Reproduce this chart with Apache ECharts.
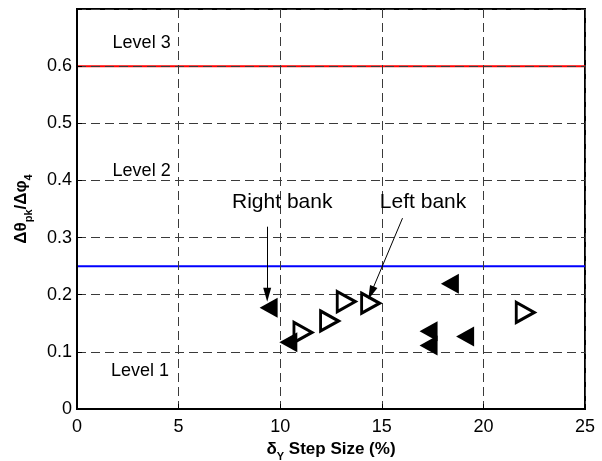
<!DOCTYPE html>
<html>
<head>
<meta charset="utf-8">
<script src="https://cdn.jsdelivr.net/npm/echarts@6/dist/echarts.min.js"></script>
<style>
html,body{margin:0;padding:0;background:#fff;}
#chart{width:602px;height:461px;}
</style>
</head>
<body>
<div id="chart"></div>
<script>
// ---- data ----
const xTicks = [0, 5, 10, 15, 20, 25];
const yTicks = [0, 0.1, 0.2, 0.3, 0.4, 0.5, 0.6];
// Right bank (filled, left-pointing triangles)
const rightBankX = [9.43, 10.4, 17.3, 17.3, 18.35, 19.1];
const rightBankY = [0.177, 0.117, 0.136, 0.111, 0.219, 0.127];
// Left bank (open, right-pointing triangles)
const leftBankX = [11.12, 12.43, 13.25, 14.45, 22.06];
const leftBankY = [0.134, 0.154, 0.188, 0.185, 0.169];
// Threshold levels
const level3Threshold = 0.6;
const level2Threshold = 0.25;
// Text annotations
const annotTexts = ['Level 3', 'Level 2', 'Level 1', 'Right bank', 'Left bank'];
const annotX = [3.18, 3.18, 3.1, 10.1, 17.03];
const annotY = [0.64, 0.416, 0.067, 0.362, 0.362];
// Arrows: [x0, y0, x1, y1]
const rightArrow = [9.36, 0.319, 9.36, 0.2];
const leftArrow = [16.02, 0.334, 14.47, 0.203];

const FONT = 'Liberation Sans, Arial, sans-serif';
const zip = (xs, ys) => xs.map((x, i) => [x, ys[i]]);

const chart = echarts.init(document.getElementById('chart'), null, {renderer: 'canvas'});
const option = {
  animation: false,
  backgroundColor: '#fff',
  grid: {left: 77, right: 17, top: 9, bottom: 52, containLabel: false, outerBoundsMode: 'none',
    show: true, borderColor: '#000', borderWidth: 2, backgroundColor: 'transparent'},
  xAxis: {
    type: 'value', min: xTicks[0], max: xTicks[xTicks.length - 1], interval: 5,
    z: 3,
    axisLine: {show: true, onZero: false, lineStyle: {color: '#000', width: 2}},
    axisTick: {show: true, inside: true, length: 5, lineStyle: {color: '#000'}},
    axisLabel: {fontSize: 18, color: '#000', fontFamily: FONT, margin: 9},
    splitLine: {show: true, lineStyle: {color: '#3a3a3a', width: 1, type: [9, 5]}},
    name: '{d|δ}{s|Y}{d| Step Size (%)}',
    nameLocation: 'middle', nameGap: 32,
    nameTextStyle: {
      fontFamily: FONT, fontWeight: 'bold', color: '#000',
      rich: {
        d: {fontSize: 17, fontWeight: 'bold', fontFamily: FONT, color: '#000', lineHeight: 20, verticalAlign: 'top'},
        s: {fontSize: 11, fontWeight: 'bold', fontFamily: FONT, color: '#000', lineHeight: 11, padding: [10, 0, 0, 0], verticalAlign: 'top'}
      }
    }
  },
  yAxis: {
    type: 'value', min: yTicks[0], max: 0.7, interval: 0.1,
    z: 3,
    axisLine: {show: true, onZero: false, lineStyle: {color: '#000', width: 2}},
    axisTick: {show: true, inside: true, length: 5, lineStyle: {color: '#000'}},
    axisLabel: {fontSize: 18, color: '#000', fontFamily: FONT, margin: 5,
      formatter: v => (v > yTicks[yTicks.length - 1] + 1e-9 ? '' : String(Math.round(v * 10) / 10))},
    splitLine: {show: true, lineStyle: {color: '#3a3a3a', width: 1, type: [9, 5]}},
    name: '{d|Δθ}{s|pk}{d|/Δφ}{s|4}',
    nameLocation: 'middle', nameGap: 44, nameRotate: 90,
    nameTextStyle: {
      fontFamily: FONT, fontWeight: 'bold', color: '#000',
      rich: {
        d: {fontSize: 17, fontWeight: 'bold', fontFamily: FONT, color: '#000', lineHeight: 20, verticalAlign: 'top'},
        s: {fontSize: 11, fontWeight: 'bold', fontFamily: FONT, color: '#000', lineHeight: 11, padding: [10, 0, 0, 0], verticalAlign: 'top'}
      }
    }
  },
  series: [
    {
      type: 'line', z: 1, symbol: 'none', silent: true,
      data: [[xTicks[0], level3Threshold], [xTicks[xTicks.length - 1], level3Threshold]],
      lineStyle: {color: '#ff0000', width: 2}
    },
    {
      type: 'line', z: 1, symbol: 'none', silent: true,
      data: [[xTicks[0], level2Threshold], [xTicks[xTicks.length - 1], level2Threshold]],
      lineStyle: {color: '#0000ff', width: 2}
    },
    {
      name: 'Right bank', type: 'scatter', z: 5,
      symbol: 'path://M10,0L0,5.5L10,11Z', symbolSize: [18, 20],
      itemStyle: {color: '#000', opacity: 1},
      data: zip(rightBankX, rightBankY)
    },
    {
      name: 'Left bank', type: 'scatter', z: 5,
      symbol: 'path://M0,0L10,5.5L0,11Z', symbolSize: [18, 20],
      itemStyle: {color: 'rgba(0,0,0,0)', borderColor: '#000', borderWidth: 3, opacity: 1},
      data: zip(leftBankX, leftBankY)
    },
    {
      type: 'scatter', z: 6, silent: true,
      symbol: 'circle', symbolSize: 0,
      itemStyle: {color: '#000'},
      label: {
        show: true, position: 'inside', color: '#000', opacity: 1, textBorderWidth: 0, fontFamily: FONT,
        formatter: p => p.data.name,
      },
      data: annotTexts.map((t, i) => ({
        name: t, value: [annotX[i], annotY[i]],
        label: {fontSize: t.indexOf('bank') >= 0 ? 21 : 18}
      })),
      markLine: {
        silent: true, symbol: ['none', 'triangle'], symbolSize: [8, 14],
        label: {show: false},
        lineStyle: {color: '#000', width: 1, type: 'solid'},
        data: [
          [{coord: [rightArrow[0], rightArrow[1]]}, {coord: [rightArrow[2], rightArrow[3]]}],
          [{coord: [leftArrow[0], leftArrow[1]]}, {coord: [leftArrow[2], leftArrow[3]]}]
        ]
      }
    }
  ]
};
chart.setOption(option);
</script>
</body>
</html>
